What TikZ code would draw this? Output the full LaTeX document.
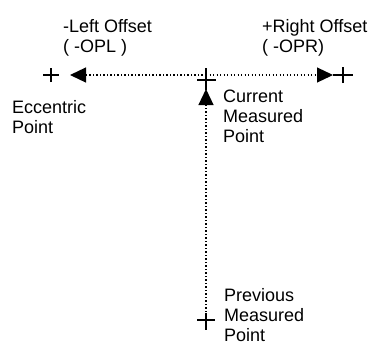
\documentclass[tikz,border=0pt]{standalone}
\usepackage{fontspec}
\setmainfont{Liberation Sans}
\usetikzlibrary{arrows.meta}
\begin{document}
\begin{tikzpicture}[x=1pt,y=-1pt,
  lbl/.style={anchor=base west,inner sep=0pt,align=left,font=\fontsize{18}{20}\selectfont},
  dotline/.style={line width=1.2pt,dash pattern=on 1.3pt off 2.2pt,
     -{Triangle[length=16pt,width=15pt]}},
  crossmark/.style={line width=1.4pt}]
\useasboundingbox (0,0) rectangle (385,349);
% points
\coordinate (ecc) at (51,75);
\coordinate (cur) at (206,75);
\coordinate (rp) at (343,75);
\coordinate (prev) at (206,320);
% crosses
\draw[crossmark] ([xshift=-8pt]ecc) -- ([xshift=8pt]ecc) ([yshift=-7pt]ecc) -- ([yshift=7pt]ecc);
\draw[crossmark] ([xshift=-10pt]rp) -- ([xshift=10pt]rp) ([yshift=-8pt]rp) -- ([yshift=8pt]rp);
\draw[crossmark] ([shift={(-9pt,-5pt)}]cur) -- ([shift={(10pt,-5pt)}]cur) ([yshift=7pt]cur) -- ([yshift=-15pt]cur);
\draw[crossmark] ([xshift=-9pt]prev) -- ([xshift=9pt]prev) ([yshift=7pt]prev) -- ([yshift=-10pt]prev);
% connectors
\draw[dotline,shorten >=19pt] (cur) -- (ecc);
\draw[dotline,shorten >=10pt] (cur) -- (rp);
\draw[dotline,shorten <=8pt,shorten >=14pt] (prev) -- (cur);
% labels (anchored at the baseline of the last line)
\node[lbl] (lo) at (63,52) {-Left Offset\\( -OPL )};
\node[lbl] (ro) at (262,52) {+Right Offset\\( -OPR)};
\node[lbl] (ep) at (12,133) {Eccentric\\Point};
\node[lbl] (cm) at (223,142) {Current\\Measured\\Point};
\node[lbl] (pm) at (224,341) {Previous\\Measured\\Point};
\end{tikzpicture}
\end{document}
